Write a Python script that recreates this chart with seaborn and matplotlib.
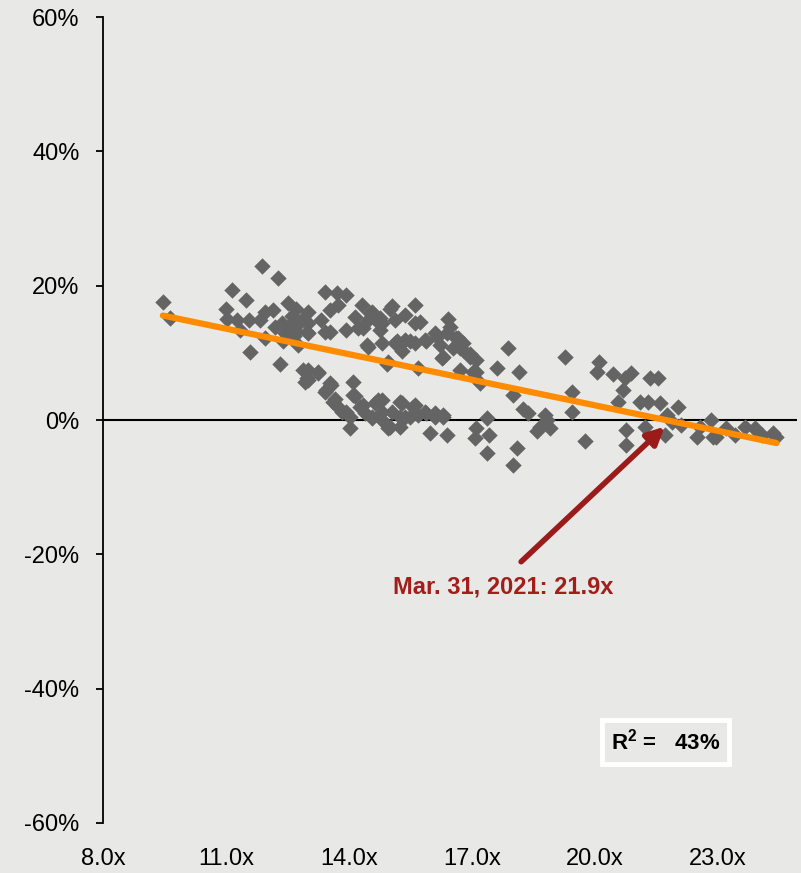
import numpy as np
import pandas as pd
import matplotlib
matplotlib.use("Agg")
import matplotlib.pyplot as plt
import seaborn as sns

# forward P/E multiple vs. subsequent return (%)
pe_multiple = [
    9.46, 9.63, 11.00, 11.03, 11.14, 11.28, 11.34, 11.49, 11.55, 11.59, 11.83, 11.87,
    11.95, 11.95, 12.15, 12.26, 12.32, 12.36, 12.40, 12.52, 12.56, 12.72, 12.72, 12.76,
    12.89, 12.89, 12.93, 12.97, 12.60, 12.65, 12.45, 12.80, 12.20,
    13.01, 13.01, 13.01, 13.01, 13.01, 13.25, 13.33, 13.41, 13.41, 13.41, 13.54, 13.54,
    13.66, 13.70, 13.74, 13.74, 13.94, 13.94, 13.94, 14.02, 14.10, 14.15, 14.15, 14.23,
    14.27, 14.31, 14.39, 14.39, 14.43, 14.47, 14.51, 14.55, 14.55, 14.63, 14.67, 14.76,
    14.80, 14.80, 14.80, 14.92, 14.96, 15.00, 15.00, 15.04, 15.04, 15.12, 15.12, 15.24,
    15.29, 15.29, 15.37, 15.37, 15.37, 15.57, 15.61, 15.61, 15.61, 15.69, 15.69, 15.73,
    15.85, 15.85, 15.98, 16.10, 16.10, 16.22, 16.26, 16.30, 16.38, 16.42, 16.46, 16.66,
    16.71, 16.71,
    14.76, 13.54, 14.35, 14.80, 15.16, 15.49, 15.89, 16.14, 16.38, 16.62, 16.54, 16.30,
    16.79, 16.95, 17.11, 17.11, 17.20, 13.45,
    12.97, 13.25, 13.57, 14.10, 13.62, 13.82, 14.02, 14.35, 14.71, 14.55, 14.80, 14.96,
    15.24, 15.24, 15.61, 15.49, 15.89, 16.10, 16.30,
    16.79, 16.95, 17.03, 17.07, 17.11, 17.36, 17.37, 17.42, 17.61, 17.87, 18.00, 18.00,
    18.09, 18.15, 18.25, 18.37, 18.58, 18.66, 18.78, 18.82, 18.90, 19.28, 19.43, 19.43,
    19.76, 20.04, 20.11, 20.45, 20.57, 20.69, 20.73, 20.77, 20.77, 20.89, 21.10, 21.22,
    21.30, 21.34, 21.55, 21.59, 21.71, 21.75, 21.87, 22.03, 22.11, 22.48, 22.56, 22.84,
    22.96, 23.21, 23.41, 23.66, 23.90, 24.07, 24.35, 24.43, 22.88, 23.94,
]
fwd_return = [
    17.6, 15.2, 16.5, 15.1, 19.4, 14.9, 13.4, 17.9, 14.9, 10.1, 14.9, 23.0,
    12.2, 16.1, 16.4, 21.2, 8.4, 14.4, 11.7, 17.4, 14.1, 16.6, 13.1, 11.2,
    7.4, 15.1, 5.7, 13.1, 15.5, 12.5, 13.0, 14.6, 13.8,
    16.1, 14.4, 12.9, 7.4, 6.0, 7.2, 14.9, 19.1, 13.1, 4.2, 16.4, 5.5,
    3.2, 18.9, 17.1, 2.0, 18.6, 13.4, 1.2, -1.2, 5.7, 15.4, 3.5, 13.7,
    2.0, 17.1, 14.4, 1.0, 11.2, 10.9, 15.9, 16.1, 0.3, 2.5, 14.9, 13.4,
    11.4, 3.0, 0.0, 8.4, 8.7, 16.6, -1.0, 16.9, 1.2, 14.9, 11.4, -1.0,
    10.2, 2.5, 15.6, 11.9, 0.5, 2.0, 17.1, 14.4, 11.4, 7.7, 0.7, 14.6,
    11.9, 1.2, -2.0, 12.9, 0.5, 11.2, 9.2, 0.5, -2.2, 15.1, 13.9, 12.2,
    10.7, 7.4,
    15.2, 13.1, 13.7, 14.4, 11.7, 11.7, 11.7, 12.4, 12.9, 12.2, 10.7, 9.4,
    10.4, 9.4, 8.9, 7.2, 5.5, 4.5,
    6.2, 7.0, 5.2, 3.7, 2.7, 1.2, 0.5, 2.2, 3.0, 0.5, 1.2, -1.2,
    2.7, 0.5, 2.2, 0.5, 1.0, 1.0, 0.7,
    11.4, 9.9, 7.2, -2.7, -1.2, 0.3, -4.9, -2.2, 7.7, 10.7, 3.7, -6.7,
    -4.2, 7.1, 1.7, 1.0, -1.7, -1.0, 0.7, 0.0, -1.2, 9.4, 4.2, 1.2,
    -3.1, 7.2, 8.7, 6.8, 2.7, 4.5, 6.2, -1.5, -3.7, 7.0, 2.7, -1.0,
    2.7, 6.2, 6.2, 2.5, -2.2, 0.7, -0.3, 2.0, -0.7, -2.5, -1.0, 0.0,
    -2.5, -1.2, -2.2, -1.0, -1.2, -2.2, -2.0, -2.5, -2.5, -1.5,
]

x_ticks = [8, 11, 14, 17, 20, 23]
y_ticks = [-60, -40, -20, 0, 20, 40, 60]
current_pe = 21.9
r_squared = 43

df = pd.DataFrame({"pe": pe_multiple, "ret": fwd_return})

bg = "#e8e8e6"
sns.set_theme(style="white")
plt.rcParams["font.family"] = ["Liberation Sans", "DejaVu Sans"]
plt.rcParams["mathtext.fontset"] = "custom"
plt.rcParams["mathtext.bf"] = "Liberation Sans:bold"
plt.rcParams["mathtext.rm"] = "Liberation Sans"

fig = plt.figure(figsize=(8.01, 8.73), dpi=100, facecolor=bg)
ax = fig.add_axes([0.1286, 0.0573, 0.8664, 0.9232])
ax.set_facecolor(bg)

ax.axhline(0, color="black", lw=1.5, zorder=1)

sns.regplot(data=df, x="pe", y="ret", ax=ax, ci=None, marker="D",
            scatter_kws=dict(s=70, color="#646464", linewidths=0, alpha=1, zorder=2),
            line_kws=dict(color="#ff8c00", lw=4.5, solid_capstyle="round", zorder=3))

ax.set_xlim(8, 24.93)
ax.set_ylim(-60, 60)
ax.set_xticks(x_ticks)
ax.set_xticklabels([f"{t:.1f}x" for t in x_ticks])
ax.set_yticks(y_ticks)
ax.set_yticklabels([f"{t}%" for t in y_ticks])
ax.set_xlabel("")
ax.set_ylabel("")

for s in ["top", "right", "bottom"]:
    ax.spines[s].set_visible(False)
ax.spines["left"].set_color("black")
ax.spines["left"].set_linewidth(1.3)
ax.tick_params(axis="y", left=True, length=5, width=1.3, color="black",
               pad=12, labelsize=17, labelcolor="black")
ax.tick_params(axis="x", bottom=False, length=0, pad=18, labelsize=17,
               labelcolor="black")

# arrow to the current valuation
ax.annotate("", xy=(21.7, -1.0), xytext=(18.2, -21.1),
            arrowprops=dict(arrowstyle="-|>", color="#9b1b1b", lw=4,
                            mutation_scale=26, shrinkA=0, shrinkB=0),
            zorder=4)
ax.text(17.76, -24.9, f"Mar. 31, 2021: {current_pe}x", color="#a01f1a",
        fontsize=17, fontweight="bold", ha="center", va="center")

ax.text(21.73, -47.9, r"$\mathbf{R^2}$ =   " + f"{r_squared}%", color="black",
        fontsize=16, fontweight="bold", ha="center", va="center",
        bbox=dict(boxstyle="square,pad=0.4", facecolor=bg, edgecolor="white", lw=3.5))

fig.savefig("out.png", dpi=100, facecolor=bg)
